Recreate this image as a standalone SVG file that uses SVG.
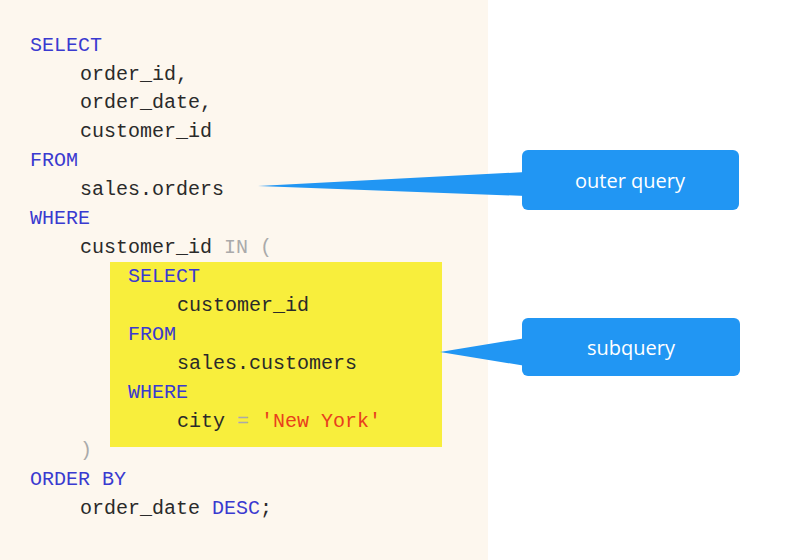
<svg xmlns="http://www.w3.org/2000/svg" width="800" height="560" viewBox="0 0 800 560">
<style>
.c{font-family:"Liberation Mono","DejaVu Sans Mono",monospace;font-size:20px;fill:#2a2a2a}
.k{fill:#3a3ad0}.g{fill:#aaaaaa}.s{fill:#e8401c}
.lbl{font-family:"Open Sans","Liberation Sans",sans-serif;font-size:20px;fill:#fff;text-anchor:middle}
.call{fill:#2196f3}
</style>
<rect width="800" height="560" fill="#fff"/>
<rect width="488" height="560" fill="#fdf7ee"/>
<g id="subquery-box"><rect x="110" y="262" width="332" height="185" fill="#f8ee3c"/></g>
<g id="code">
<text class="c k" x="30" y="51">SELECT</text>
<text class="c" x="80" y="80">order_id,</text>
<text class="c" x="80" y="108">order_date,</text>
<text class="c" x="80" y="137">customer_id</text>
<text class="c k" x="30" y="166">FROM</text>
<text class="c" x="80" y="195">sales.orders</text>
<text class="c k" x="30" y="224">WHERE</text>
<text class="c" x="80" y="253">customer_id <tspan class="g">IN (</tspan></text>
<text class="c k" x="128" y="282">SELECT</text>
<text class="c" x="177" y="311">customer_id</text>
<text class="c k" x="128" y="340">FROM</text>
<text class="c" x="177" y="369">sales.customers</text>
<text class="c k" x="128" y="398">WHERE</text>
<text class="c" x="177" y="427">city <tspan class="g">=</tspan> <tspan class="s">'New York'</tspan></text>
<text class="c g" x="80" y="456">)</text>
<text class="c k" x="30" y="485">ORDER BY</text>
<text class="c" x="80" y="514">order_date <tspan class="k">DESC</tspan>;</text>
</g>
<g id="connectors">
<polygon class="call" points="258,186 526,172 526,196"/>
<polygon class="call" points="440,352 526,338 526,366"/>
</g>
<g id="outer-query"><rect class="call" x="522" y="150" width="217" height="60" rx="6"/><text class="lbl" x="630" y="188">outer query</text></g>
<g id="subquery"><rect class="call" x="522" y="318" width="218" height="58" rx="6"/><text class="lbl" x="631" y="355">subquery</text></g>
</svg>
